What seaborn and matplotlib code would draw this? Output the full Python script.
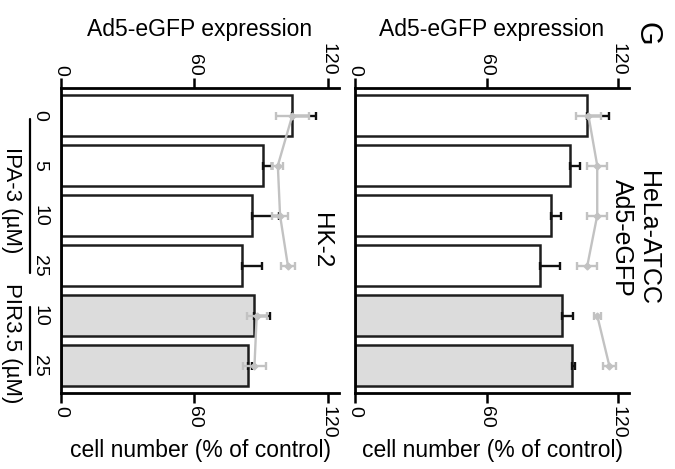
import numpy as np
import pandas as pd
import matplotlib
matplotlib.use('Agg')
import matplotlib.pyplot as plt
import seaborn as sns
from matplotlib.transforms import blended_transform_factory as btf

# ---------------- data ----------------
conditions = ['IPA-3 0', 'IPA-3 5', 'IPA-3 10', 'IPA-3 25', 'PIR3.5 10', 'PIR3.5 25']
dose_labels = ['0', '5', '10', '25', '10', '25']
treatment = ['IPA-3', 'IPA-3', 'IPA-3', 'IPA-3', 'PIR3.5', 'PIR3.5']
value_ticks = [0, 60, 120]

hk2_cells = [104, 91, 86, 81.5, 87, 84]
hk2_cells_err = [10.5, 4, 12, 9, 7, 2]
hk2_egfp = [104, 97.5, 98.5, 102, 88, 87]
hk2_egfp_err = [7.5, 2.5, 3.5, 3, 4.5, 5]

hela_cells = [106, 98, 89.5, 84.5, 94.5, 99]
hela_cells_err = [10, 4.5, 4.5, 9, 5, 1.5]
hela_egfp = [106.5, 110.5, 110.5, 106, 110.5, 116]
hela_egfp_err = [5.5, 4.5, 4.5, 4.5, 1.5, 3]

# ---------------- style ----------------
sns.set_theme(style='ticks')
plt.rcParams['font.family'] = ['Liberation Sans', 'DejaVu Sans']
plt.rcParams['text.color'] = 'black'
plt.rcParams['axes.labelcolor'] = 'black'
plt.rcParams['xtick.color'] = 'black'
plt.rcParams['ytick.color'] = 'black'
plt.rcParams['axes.edgecolor'] = 'black'

W, H = 675, 469
fig = plt.figure(figsize=(W / 100, H / 100), dpi=100)
ax1 = fig.add_axes([61 / W, 1 - 393 / H, 278 / W, 305 / H])
ax2 = fig.add_axes([355 / W, 1 - 393 / H, 274 / W, 305 / H])

palette = {'IPA-3': 'white', 'PIR3.5': '#dcdcdc'}
grey = '#c2c2c2'


def draw_panel(ax, cells, cells_err, egfp, egfp_err, show_cats):
    df = pd.DataFrame({'condition': conditions, 'cells': cells, 'treatment': treatment})
    sns.barplot(data=df, x='cells', y='condition', hue='treatment', order=conditions,
                palette=palette, dodge=False, width=0.82, edgecolor='#1e1e1e',
                linewidth=1.8, legend=False, orient='h', ax=ax, zorder=2)
    y = np.arange(len(conditions))
    cells = np.asarray(cells, float)
    ax.errorbar(cells, y, xerr=[np.zeros_like(cells), cells_err], fmt='none',
                ecolor='#111111', elinewidth=1.7, capsize=3, capthick=1.7, zorder=3)
    egfp = np.asarray(egfp, float)
    egfp_err = np.asarray(egfp_err, float)
    for seg in (slice(0, 4), slice(4, 6)):
        ax.errorbar(egfp[seg], y[seg], xerr=egfp_err[seg], color=grey, ecolor=grey,
                    marker='D', ms=3.5, lw=1.7, elinewidth=1.7, capsize=3,
                    capthick=1.7, zorder=4)

    ax.set_xlim(0, 125)
    ax.set_ylim(5.55, -0.55)
    ax.set_xticks(value_ticks)
    ax.set_xticklabels([str(v) for v in value_ticks])
    ax.tick_params(axis='x', labelrotation=-90, labelsize=14, length=7.5, width=1.8,
                   pad=1.5, direction='out', colors='black')
    ax.set_xlabel('cell number (% of control)', fontsize=16.5, labelpad=0.5, color='black')
    ax.set_ylabel('')
    ax.set_yticks(y)
    if show_cats:
        ax.set_yticklabels(dose_labels, rotation=-90, va='center', ha='right', fontsize=14)
    else:
        ax.set_yticklabels([])
    ax.tick_params(axis='y', length=0, pad=9, colors='black')
    for s in ('top', 'right'):
        ax.spines[s].set_visible(False)
    for s in ('left', 'bottom'):
        ax.spines[s].set_linewidth(2.0)
        ax.spines[s].set_color('black')

    sec = ax.secondary_xaxis('top')
    sec.set_xticks(value_ticks)
    sec.set_xticklabels([str(v) for v in value_ticks])
    sec.tick_params(axis='x', labelrotation=-90, labelsize=14, length=7.5, width=1.8,
                    pad=1.5, direction='out', colors='black')
    sec.spines['top'].set_linewidth(2.0)
    sec.spines['top'].set_color('black')
    sec.set_xlabel('Ad5-eGFP expression', fontsize=16.5, labelpad=5, color='black')


draw_panel(ax1, hk2_cells, hk2_cells_err, hk2_egfp, hk2_egfp_err, True)
draw_panel(ax2, hela_cells, hela_cells_err, hela_egfp, hela_egfp_err, False)

# group brackets
tr = btf(ax1.transAxes, ax1.transData)
ax1.plot([-0.1115, -0.1115], [0.06, 3.14], color='black', lw=1.6, transform=tr, clip_on=False)
ax1.plot([-0.1115, -0.1115], [3.82, 5.18], color='black', lw=1.6, transform=tr, clip_on=False)
ax1.text(-0.178, 1.7, 'IPA-3 (µM)', transform=tr, rotation=-90, ha='center', va='center',
         fontsize=16, clip_on=False)
ax1.text(-0.178, 4.56, 'PIR3.5 (µM)', transform=tr, rotation=-90, ha='center', va='center',
         fontsize=16, clip_on=False)

ax1.text(0.935, 2.5, 'HK-2', transform=tr, rotation=-90, ha='center', va='center',
         fontsize=17.5, clip_on=False)
tr2 = btf(ax2.transAxes, ax2.transData)
ax2.text(1.022, 2.45, 'HeLa-ATCC\nAd5-eGFP', transform=tr2, rotation=-90, ha='center',
         va='center', multialignment='center', fontsize=18, linespacing=1.1, clip_on=False)

fig.text(646 / W, 1 - 34 / H, 'G', rotation=-90, ha='center', va='center', fontsize=22)

fig.savefig('out.png', dpi=100)
